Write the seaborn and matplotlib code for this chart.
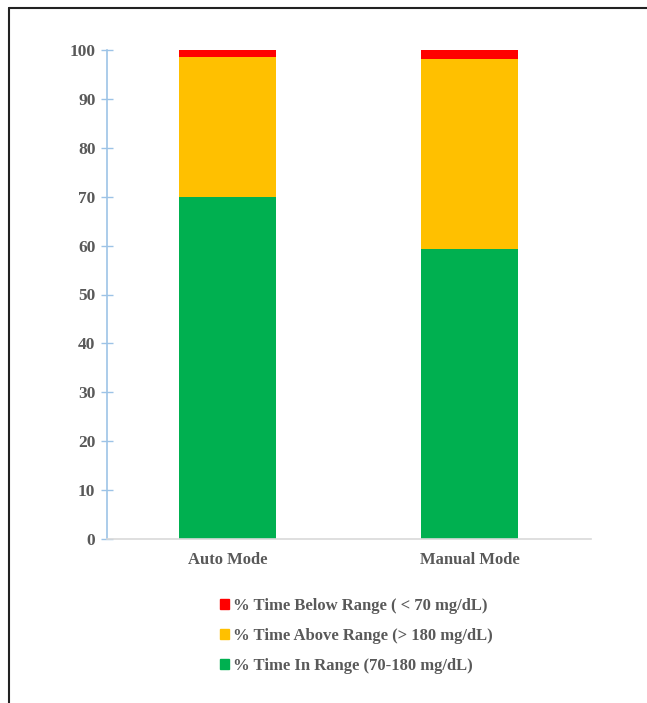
import numpy as np
import pandas as pd
import matplotlib.pyplot as plt
import seaborn as sns
from matplotlib.patches import Patch
from matplotlib.lines import Line2D

# Data
modes = ["Auto Mode", "Manual Mode"]
in_range = [70.0, 59.3]
above_range = [28.6, 38.9]
below_range = [1.4, 1.8]

labels = ["% Time Below Range ( < 70 mg/dL)",
          "% Time Above Range (> 180 mg/dL)",
          "% Time In Range (70-180 mg/dL)"]
colors = {"below": "#FF0000", "above": "#FFC000", "in": "#00B050"}

sns.set_style("white")
plt.rcParams['font.family'] = ['Liberation Serif', 'DejaVu Serif']
plt.rcParams['font.weight'] = 'bold'

W, H = 647, 703
fig = plt.figure(figsize=(W / 100, H / 100), dpi=100)
ax = fig.add_axes([106.5 / W, (H - 539) / H, 484 / W, 489 / H])

df = pd.DataFrame({"mode": modes, "in": in_range,
                   "above": above_range, "below": below_range})
base_above = df["in"].values
base_below = (df["in"] + df["above"]).values

sns.barplot(data=df, x="mode", y="in", color=colors["in"], width=0.4,
            saturation=1, ax=ax, linewidth=0)
sns.barplot(data=df, x="mode", y="above", color=colors["above"], width=0.4,
            saturation=1, ax=ax, bottom=base_above, linewidth=0)
sns.barplot(data=df, x="mode", y="below", color=colors["below"], width=0.4,
            saturation=1, ax=ax, bottom=base_below, linewidth=0)

ax.set_ylim(0, 100)
ax.set_xlim(-0.5, 1.5)
ax.set_yticks(np.arange(0, 101, 10))
ax.set_xlabel("")
ax.set_ylabel("")

text_col = "#595959"
ax.tick_params(axis="y", left=True, direction="inout", length=8, width=1,
               color="#9DC3E6", labelsize=12.5, labelcolor=text_col, pad=4)
ax.tick_params(axis="x", bottom=False, labelsize=12, labelcolor=text_col,
               pad=6)
for lab in ax.get_xticklabels() + ax.get_yticklabels():
    lab.set_fontweight("bold")

for side in ["top", "right"]:
    ax.spines[side].set_visible(False)
ax.spines["left"].set_color("#9DC3E6")
ax.spines["left"].set_linewidth(1.2)
ax.spines["bottom"].set_color("#D9D9D9")
ax.spines["bottom"].set_linewidth(1.2)

handles = [Patch(color=colors["below"]), Patch(color=colors["above"]),
           Patch(color=colors["in"])]
fig.legend(handles, labels, loc="upper left",
           bbox_to_anchor=(205 / W, 1 - 583 / H), frameon=False,
           handlelength=0.55, handleheight=0.55, handletextpad=0.25,
           labelspacing=0.85, prop={"size": 12, "weight": "bold"},
           labelcolor=text_col)

# outer frame (left and top edges of the original image)
fig.add_artist(Line2D([9 / W, 9 / W], [0, 1 - 8 / H], color="#222222",
                      lw=1.5, transform=fig.transFigure))
fig.add_artist(Line2D([9 / W, 1], [1 - 8 / H, 1 - 8 / H], color="#222222",
                      lw=1.5, transform=fig.transFigure))

fig.savefig("out.png", dpi=100, facecolor="white")
